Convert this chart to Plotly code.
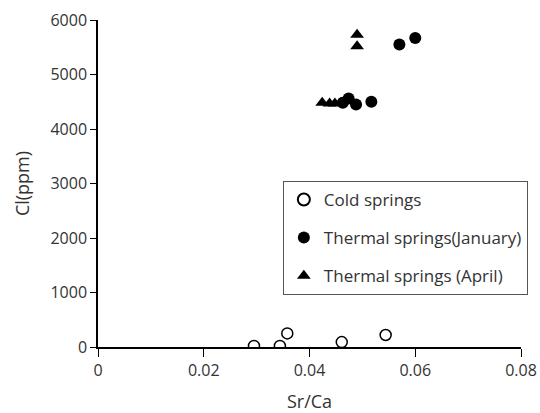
import plotly.graph_objects as go

cold_x = [0.0295, 0.0344, 0.0358, 0.0461, 0.0544]
cold_y = [20, 20, 250, 90, 220]

jan_x = [0.0474, 0.0463, 0.0488, 0.0517, 0.0570, 0.0600]
jan_y = [4560, 4480, 4450, 4500, 5550, 5670]

apr_x = [0.0424, 0.0438, 0.0448, 0.0460, 0.0490, 0.0490]
apr_y = [4480, 4470, 4470, 4480, 5730, 5520]

x_ticks = [0, 0.02, 0.04, 0.06, 0.08]
x_labels = ["0", "0.02", "0.04", "0.06", "0.08"]
y_ticks = [0, 1000, 2000, 3000, 4000, 5000, 6000]

fig = go.Figure()
fig.add_trace(go.Scatter(x=cold_x, y=cold_y, mode="markers", name="Cold springs",
                         legendgroup="a",
                         marker=dict(symbol="circle-open", size=11, color="black",
                                     line=dict(width=1.5, color="black"))))
fig.add_trace(go.Scatter(x=jan_x, y=jan_y, mode="markers", name="Thermal springs(January)",
                         legendgroup="b",
                         marker=dict(symbol="circle", size=12, color="black")))
fig.add_trace(go.Scatter(x=apr_x, y=apr_y, mode="markers", name="Thermal springs (April)",
                         legendgroup="c",
                         marker=dict(symbol="triangle-up", size=12, color="black")))

fig.update_layout(
    width=540, height=413,
    margin=dict(l=98, r=19, t=20, b=66),
    plot_bgcolor="white", paper_bgcolor="white",
    font=dict(family="Open Sans, Liberation Sans, sans-serif", size=16, color="#333"),
    showlegend=True,
    legend=dict(x=0.437, y=0.508, xanchor="left", yanchor="top",
                bordercolor="#555", borderwidth=1, bgcolor="white",
                font=dict(size=17, color="#333"), tracegroupgap=13,
                traceorder="grouped", itemwidth=30,
                itemsizing="constant"),
    xaxis=dict(range=[0, 0.08], tickvals=x_ticks, ticktext=x_labels,
               automargin=False,
               showgrid=False, zeroline=False, showline=True, linecolor="black",
               linewidth=1.5, ticks="outside", ticklen=8, tickcolor="black",
               tickfont=dict(size=16),
               title=dict(text="Sr/Ca", font=dict(size=18), standoff=16)),
    yaxis=dict(range=[0, 6000], tickvals=y_ticks,
               automargin=False,
               showgrid=False, zeroline=False, showline=True, linecolor="black",
               linewidth=1.5, ticks="outside", ticklen=6, tickcolor="black",
               tickfont=dict(size=16),
               title=dict(text="Cl(ppm)", font=dict(size=18), standoff=16)),
)

fig.write_html("out.html")
